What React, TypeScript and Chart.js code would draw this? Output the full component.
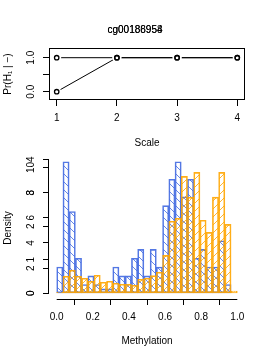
import React, { useEffect, useRef } from 'react';
import { Chart, registerables } from 'chart.js';

Chart.register(...registerables);

const FONT_FAMILY = "'Liberation Sans', Arial, Helvetica, sans-serif";

// ---------------- data ----------------
const titleTexts = ['cg00186954', 'cg00188958'];

const scaleLevels = [1, 2, 3, 4];
const prSeriesA = [1, 1, 1, 1];
const prSeriesB = [0, 1, 1, 1];
const prTickValues = [0, 0.5, 1];
const prTickLabels = ['0.0', '', '1.0'];

const binCount = 29;
const blueDensity = [
  2.09, 10.45, 6.5, 2.79, 0.7, 1.39, 0.7, 0.35, 0.35, 2.09, 1.39, 1.39, 2.79, 3.49, 1.39,
  3.49, 2.09, 6.97, 9.06, 10.45, 7.67, 9.06, 2.79, 3.49, 2.09, 2.09, 4.18, 0.7, 0,
];
const orangeDensity = [
  0.03, 0.51, 0.69, 0.51, 0.45, 0.36, 0.54, 0.33, 0.36, 0.3, 0.27, 0.27, 0.24, 0.42, 0.45,
  0.53, 0.63, 1.13, 2.15, 2.24, 3.49, 2.87, 3.61, 2.18, 1.82, 2.87, 3.61, 2.06, 0.07,
];
const blueAxisTicks = [0, 2, 4, 6, 8, 10];
const orangeAxisTicks = [0, 1, 2, 3, 4];
const methylationTicks = [0, 0.2, 0.4, 0.6, 0.8, 1.0];
const methylationTickLabels = ['0.0', '0.2', '0.4', '0.6', '0.8', '1.0'];

const BLUE = 'rgba(65,105,225,0.9)';
const ORANGE = 'rgba(255,165,0,0.9)';
const BLUE_HATCH = 'rgba(65,105,225,0.8)';
const ORANGE_HATCH = 'rgba(255,165,0,0.8)';

// ---------------- helpers ----------------
const zeroPad = (s: any) => {
  s.paddingTop = 0;
  s.paddingBottom = 0;
  s.paddingLeft = 0;
  s.paddingRight = 0;
};

const tickGrid = {
  drawOnChartArea: false,
  drawTicks: true,
  tickLength: 6,
  color: '#000',
  lineWidth: 1,
};

function makeHatch(ctx: CanvasRenderingContext2D, color: string, forward: boolean) {
  const s = 8;
  const c = document.createElement('canvas');
  c.width = s;
  c.height = s;
  const g = c.getContext('2d') as CanvasRenderingContext2D;
  g.strokeStyle = color;
  g.lineWidth = 1;
  g.beginPath();
  if (forward) {
    g.moveTo(0, s);
    g.lineTo(s, 0);
    g.moveTo(-1, 1);
    g.lineTo(1, -1);
    g.moveTo(s - 1, s + 1);
    g.lineTo(s + 1, s - 1);
  } else {
    g.moveTo(0, 0);
    g.lineTo(s, s);
    g.moveTo(-1, s - 1);
    g.lineTo(1, s + 1);
    g.moveTo(s - 1, -1);
    g.lineTo(s + 1, 1);
  }
  g.stroke();
  return ctx.createPattern(c, 'repeat');
}

const boxPlugin = {
  id: 'rbox',
  afterDraw(chart: any) {
    const { ctx, chartArea: a } = chart;
    ctx.save();
    ctx.strokeStyle = '#000';
    ctx.lineWidth = 1;
    ctx.strokeRect(
      Math.round(a.left) + 0.5,
      Math.round(a.top) + 0.5,
      Math.round(a.right - a.left) - 1,
      Math.round(a.bottom - a.top) - 1
    );
    ctx.restore();
  },
};

const axisLinePlugin = {
  id: 'raxis',
  afterDraw(chart: any) {
    const { ctx, chartArea: a, scales } = chart;
    ctx.save();
    ctx.strokeStyle = '#000';
    ctx.lineWidth = 1;
    const xl = Math.round(a.left) - 0.5;
    const yb = Math.round(a.bottom) + 0.5;
    ctx.beginPath();
    ctx.moveTo(xl, scales.y.getPixelForValue(blueAxisTicks[0]));
    ctx.lineTo(xl, scales.y.getPixelForValue(blueAxisTicks[blueAxisTicks.length - 1]));
    ctx.moveTo(xl, scales.y2.getPixelForValue(orangeAxisTicks[0]));
    ctx.lineTo(xl, scales.y2.getPixelForValue(orangeAxisTicks[orangeAxisTicks.length - 1]));
    ctx.moveTo(scales.x.getPixelForValue(methylationTicks[0]), yb);
    ctx.lineTo(scales.x.getPixelForValue(methylationTicks[methylationTicks.length - 1]), yb);
    ctx.stroke();
    ctx.restore();
  },
};

export default function App() {
  const topRef = useRef<HTMLCanvasElement>(null);
  const botRef = useRef<HTMLCanvasElement>(null);

  useEffect(() => {
    Chart.defaults.font.family = FONT_FAMILY;
    Chart.defaults.font.size = 10;
    Chart.defaults.color = '#000';

    const pts = (vals: number[]) => scaleLevels.map((x, i) => ({ x, y: vals[i] }));
    const line = (vals: number[]) => ({
      data: pts(vals),
      borderColor: '#000',
      borderWidth: 1,
      pointRadius: 0,
      showLine: true,
      fill: false,
      tension: 0,
      order: 2,
    });
    const mask = (vals: number[]) => ({
      data: pts(vals),
      showLine: false,
      pointRadius: 4.5,
      pointBorderWidth: 0,
      pointBackgroundColor: '#fff',
      pointBorderColor: '#fff',
      order: 1,
    });
    const circ = (vals: number[]) => ({
      data: pts(vals),
      showLine: false,
      pointRadius: 2.2,
      pointBorderWidth: 1.3,
      pointBackgroundColor: 'rgba(0,0,0,0)',
      pointBorderColor: '#000',
      order: 0,
    });

    const top = new Chart(topRef.current as HTMLCanvasElement, {
      type: 'line',
      data: {
        datasets: [
          line(prSeriesA),
          line(prSeriesB),
          mask(prSeriesA),
          mask(prSeriesB),
          circ(prSeriesA),
          circ(prSeriesB),
        ] as any,
      },
      options: {
        responsive: false,
        animation: false,
        devicePixelRatio: 1,
        events: [],
        layout: { padding: { top: 48, right: 25, bottom: 0, left: 0 } },
        plugins: { legend: { display: false }, tooltip: { enabled: false } },
        scales: {
          x: {
            type: 'linear',
            min: 0.872,
            max: 4.128,
            afterBuildTicks: (s: any) => {
              s.ticks = scaleLevels.map((v) => ({ value: v }));
            },
            afterFit: (s: any) => {
              s.height = 50;
              zeroPad(s);
            },
            ticks: {
              padding: 6,
              autoSkip: false,
              maxRotation: 0,
              color: '#000',
              callback: (v: any) => String(v),
            },
            grid: tickGrid,
            border: { display: false },
            title: {
              display: true,
              text: 'Scale',
              color: '#000',
              padding: { top: 0, bottom: 1 },
            },
          },
          y: {
            type: 'linear',
            min: -0.244,
            max: 1.285,
            afterBuildTicks: (s: any) => {
              s.ticks = prTickValues.map((v) => ({ value: v }));
            },
            afterFit: (s: any) => {
              s.width = 49;
              zeroPad(s);
            },
            ticks: {
              padding: 5,
              minRotation: 90,
              maxRotation: 90,
              crossAlign: 'center',
              autoSkip: false,
              color: '#000',
              callback: (_v: any, i: number) => prTickLabels[i],
            },
            grid: tickGrid,
            border: { display: false },
            title: {
              display: true,
              text: 'Pr(H₁ | −)',
              color: '#000',
              padding: { top: 2, bottom: 0 },
            },
          },
        },
      } as any,
      plugins: [boxPlugin],
    });

    const bctx = (botRef.current as HTMLCanvasElement).getContext('2d') as CanvasRenderingContext2D;
    const bluePattern = makeHatch(bctx, BLUE_HATCH, false);
    const orangePattern = makeHatch(bctx, ORANGE_HATCH, true);
    const binCenters = blueDensity.map((_, i) => (i + 0.5) / binCount);

    const bottom = new Chart(botRef.current as HTMLCanvasElement, {
      type: 'bar',
      data: {
        datasets: [
          {
            data: binCenters.map((x, i) => ({ x, y: orangeDensity[i] })),
            yAxisID: 'y2',
            backgroundColor: orangePattern,
            borderColor: ORANGE,
            borderWidth: 1,
            borderSkipped: false,
            grouped: false,
            barPercentage: 1,
            categoryPercentage: 1,
            order: 0,
          },
          {
            data: binCenters.map((x, i) => ({ x, y: blueDensity[i] })),
            yAxisID: 'y',
            backgroundColor: bluePattern,
            borderColor: BLUE,
            borderWidth: 1,
            borderSkipped: false,
            grouped: false,
            barPercentage: 1,
            categoryPercentage: 1,
            order: 1,
          },
        ] as any,
      },
      options: {
        responsive: false,
        animation: false,
        devicePixelRatio: 1,
        events: [],
        layout: { padding: { top: 7, right: 25, bottom: 0, left: 0 } },
        plugins: { legend: { display: false }, tooltip: { enabled: false } },
        scales: {
          x: {
            type: 'linear',
            offset: false,
            min: -0.0426,
            max: 1.0426,
            afterBuildTicks: (s: any) => {
              s.ticks = methylationTicks.map((v) => ({ value: v }));
            },
            afterFit: (s: any) => {
              s.height = 61;
              zeroPad(s);
            },
            ticks: {
              padding: 6,
              autoSkip: false,
              maxRotation: 0,
              color: '#000',
              callback: (_v: any, i: number) => methylationTickLabels[i],
            },
            grid: tickGrid,
            border: { display: false },
            title: {
              display: true,
              text: 'Methylation',
              color: '#000',
              padding: { top: 0, bottom: 13 },
            },
          },
          // outer axis (higher weight = further from the chart area)
          y: {
            type: 'linear',
            position: 'left',
            weight: 1,
            min: -0.45,
            max: 10.83,
            afterBuildTicks: (s: any) => {
              s.ticks = blueAxisTicks.map((v) => ({ value: v }));
            },
            afterFit: (s: any) => {
              s.width = 49;
              zeroPad(s);
            },
            ticks: {
              padding: 6.4,
              minRotation: 90,
              maxRotation: 90,
              crossAlign: 'center',
              autoSkip: false,
              color: '#000',
              callback: (v: any) => String(v),
            },
            grid: tickGrid,
            border: { display: false },
            title: {
              display: true,
              text: 'Density',
              color: '#000',
              padding: { top: 2, bottom: 0 },
            },
          },
          // inner, zero-width axis overprinted on the same spot (mirror avoids label clipping)
          y2: {
            type: 'linear',
            position: 'left',
            weight: 0,
            min: -0.17,
            max: 4.069,
            afterBuildTicks: (s: any) => {
              s.ticks = orangeAxisTicks.map((v) => ({ value: v }));
            },
            afterFit: (s: any) => {
              s.width = 0;
              zeroPad(s);
            },
            ticks: {
              mirror: true,
              padding: -20.8,
              minRotation: 90,
              maxRotation: 90,
              crossAlign: 'center',
              autoSkip: false,
              color: '#000',
              callback: (v: any) => String(v),
            },
            grid: tickGrid,
            border: { display: false },
          },
        },
      } as any,
      plugins: [axisLinePlugin],
    });

    return () => {
      top.destroy();
      bottom.destroy();
    };
  }, []);

  const titleStyle: React.CSSProperties = {
    position: 'absolute',
    left: 0,
    top: 24,
    width: 270,
    textAlign: 'center',
    fontFamily: FONT_FAMILY,
    fontSize: 10,
    lineHeight: '12px',
    color: '#000',
    whiteSpace: 'nowrap',
  };

  return (
    <div
      style={{
        position: 'absolute',
        left: 0,
        top: 0,
        width: 270,
        height: 360,
        background: '#fff',
        overflow: 'hidden',
      }}
    >
      <canvas
        ref={topRef}
        width={270}
        height={150}
        style={{ position: 'absolute', left: 0, top: 0 }}
      />
      <canvas
        ref={botRef}
        width={270}
        height={210}
        style={{ position: 'absolute', left: 0, top: 150 }}
      />
      {titleTexts.map((t) => (
        <div key={t} style={titleStyle}>
          {t}
        </div>
      ))}
    </div>
  );
}
